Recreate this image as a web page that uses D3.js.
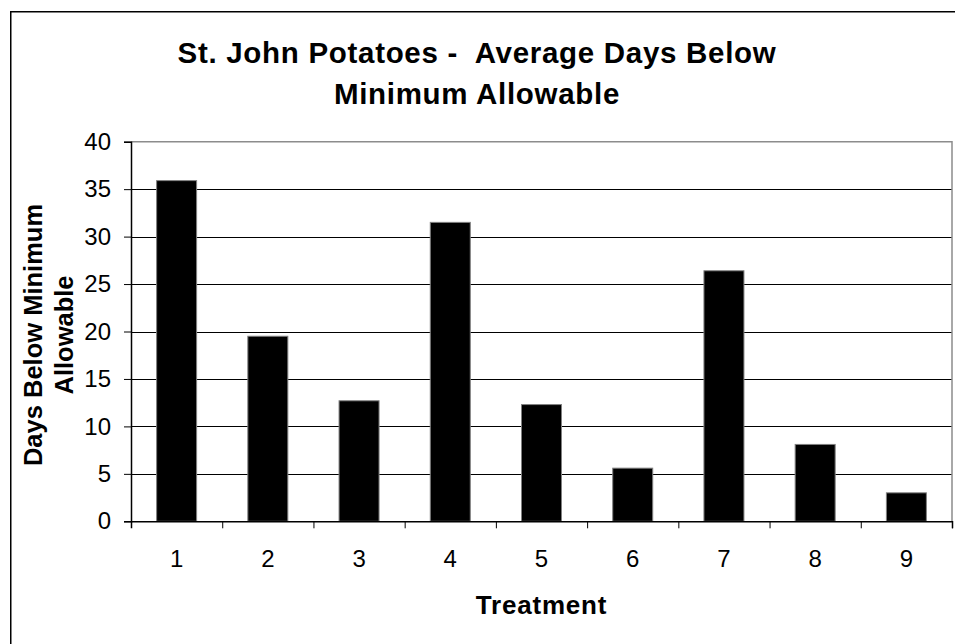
<!DOCTYPE html>
<html>
<head>
<meta charset="utf-8">
<script src="https://cdn.jsdelivr.net/npm/d3@7"></script>
<style>
  html, body { margin: 0; padding: 0; background: #fff; }
  svg { display: block; font-family: "Liberation Sans", Arial, sans-serif; }
  .title { white-space: pre; }
</style>
</head>
<body>
<svg id="chart" width="955" height="644"></svg>
<script>
// Average days below minimum allowable, per treatment
const treatments = ["1", "2", "3", "4", "5", "6", "7", "8", "9"];
const daysBelow = [35.9, 19.5, 12.7, 31.5, 12.3, 5.6, 26.4, 8.1, 3.0];
const yTicks = [0, 5, 10, 15, 20, 25, 30, 35, 40];

const titleLines = ["St. John Potatoes -  Average Days Below", "Minimum Allowable"];
const yTitleLines = ["Days Below Minimum", "Allowable"];
const xTitle = "Treatment";

const svg = d3.select("#chart");

// plot area
const plotLeft = 131, plotRight = 952, plotTop = 141.7, plotBottom = 521.3;

// outer chart frame
svg.append("rect")
  .attr("x", 10.75).attr("y", 11.75)
  .attr("width", 1100).attr("height", 800)
  .attr("fill", "#fff")
  .attr("stroke", "#000").attr("stroke-width", 1.5);

const barFrac = 40 / ((plotRight - plotLeft) / treatments.length);
const x = d3.scaleBand()
  .domain(treatments)
  .range([plotLeft, plotRight])
  .paddingInner(1 - barFrac)
  .paddingOuter((1 - barFrac) / 2);

const xEdges = d3.scaleLinear().domain([0, treatments.length]).range([plotLeft, plotRight]);

const y = d3.scaleLinear().domain([0, 40]).range([plotBottom, plotTop]);

// gridlines
svg.append("g")
  .selectAll("line")
  .data(yTicks.filter(t => t > 0 && t < 40))
  .join("line")
  .attr("x1", plotLeft).attr("x2", plotRight)
  .attr("y1", d => Math.round(y(d)) + 0.5).attr("y2", d => Math.round(y(d)) + 0.5)
  .attr("stroke", "#000").attr("stroke-width", 1);

// plot border (top and right)
svg.append("path")
  .attr("d", `M${plotLeft},${plotTop}H${plotRight}V${plotBottom}`)
  .attr("fill", "none")
  .attr("stroke", "#8c8c8c").attr("stroke-width", 1.5);

// bars
svg.append("g")
  .selectAll("rect")
  .data(treatments.map((t, i) => ({ t, v: daysBelow[i] })))
  .join("rect")
  .attr("x", d => x(d.t))
  .attr("width", x.bandwidth())
  .attr("y", d => y(d.v))
  .attr("height", d => y(0) - y(d.v))
  .attr("fill", "#000")
  .attr("stroke", "#808080").attr("stroke-width", 1);

// y axis
const yAxis = svg.append("g")
  .attr("transform", `translate(${plotLeft},0)`)
  .call(d3.axisLeft(y).tickValues(yTicks).tickSize(7).tickPadding(13).tickFormat(d3.format("d")));
yAxis.select(".domain").attr("stroke", "#000").attr("stroke-width", 1.5);
yAxis.selectAll(".tick line").attr("stroke", "#000");
yAxis.selectAll("text")
  .attr("font-size", 24).attr("fill", "#000")
  .attr("font-family", "Liberation Sans, Arial, sans-serif");

// x axis: tick marks at category boundaries
const xAxisTicks = svg.append("g")
  .attr("transform", `translate(0,${plotBottom})`)
  .call(d3.axisBottom(xEdges).ticks(treatments.length).tickSize(7).tickFormat(""));
xAxisTicks.select(".domain").attr("stroke", "#000").attr("stroke-width", 1.5);
xAxisTicks.selectAll(".tick line").attr("stroke", "#000");
xAxisTicks.selectAll(".tick").filter(d => d === 0).remove();

// x axis: category labels
const xAxisLabels = svg.append("g")
  .attr("transform", `translate(0,${plotBottom})`)
  .call(d3.axisBottom(x).tickSize(0).tickPadding(29));
xAxisLabels.select(".domain").remove();
xAxisLabels.selectAll("text")
  .attr("font-size", 24).attr("fill", "#000")
  .attr("font-family", "Liberation Sans, Arial, sans-serif");

// chart title
svg.append("g")
  .selectAll("text")
  .data(titleLines)
  .join("text")
  .attr("class", "title")
  .attr("x", 477)
  .attr("y", (d, i) => 62.5 + i * 41)
  .attr("text-anchor", "middle")
  .attr("font-size", 29.5).attr("font-weight", "bold")
  .attr("letter-spacing", 0.7)
  .text(d => d);

// y axis title
svg.append("g")
  .attr("transform", "translate(0,335) rotate(-90)")
  .selectAll("text")
  .data(yTitleLines)
  .join("text")
  .attr("x", 0)
  .attr("y", (d, i) => 41.5 + i * 31)
  .attr("text-anchor", "middle")
  .attr("font-size", 25.5).attr("font-weight", "bold")
  .text(d => d);

// x axis title
svg.append("text")
  .attr("x", 541.5).attr("y", 614)
  .attr("text-anchor", "middle")
  .attr("font-size", 26).attr("font-weight", "bold")
  .attr("letter-spacing", 0.8)
  .text(xTitle);
</script>
</body>
</html>
